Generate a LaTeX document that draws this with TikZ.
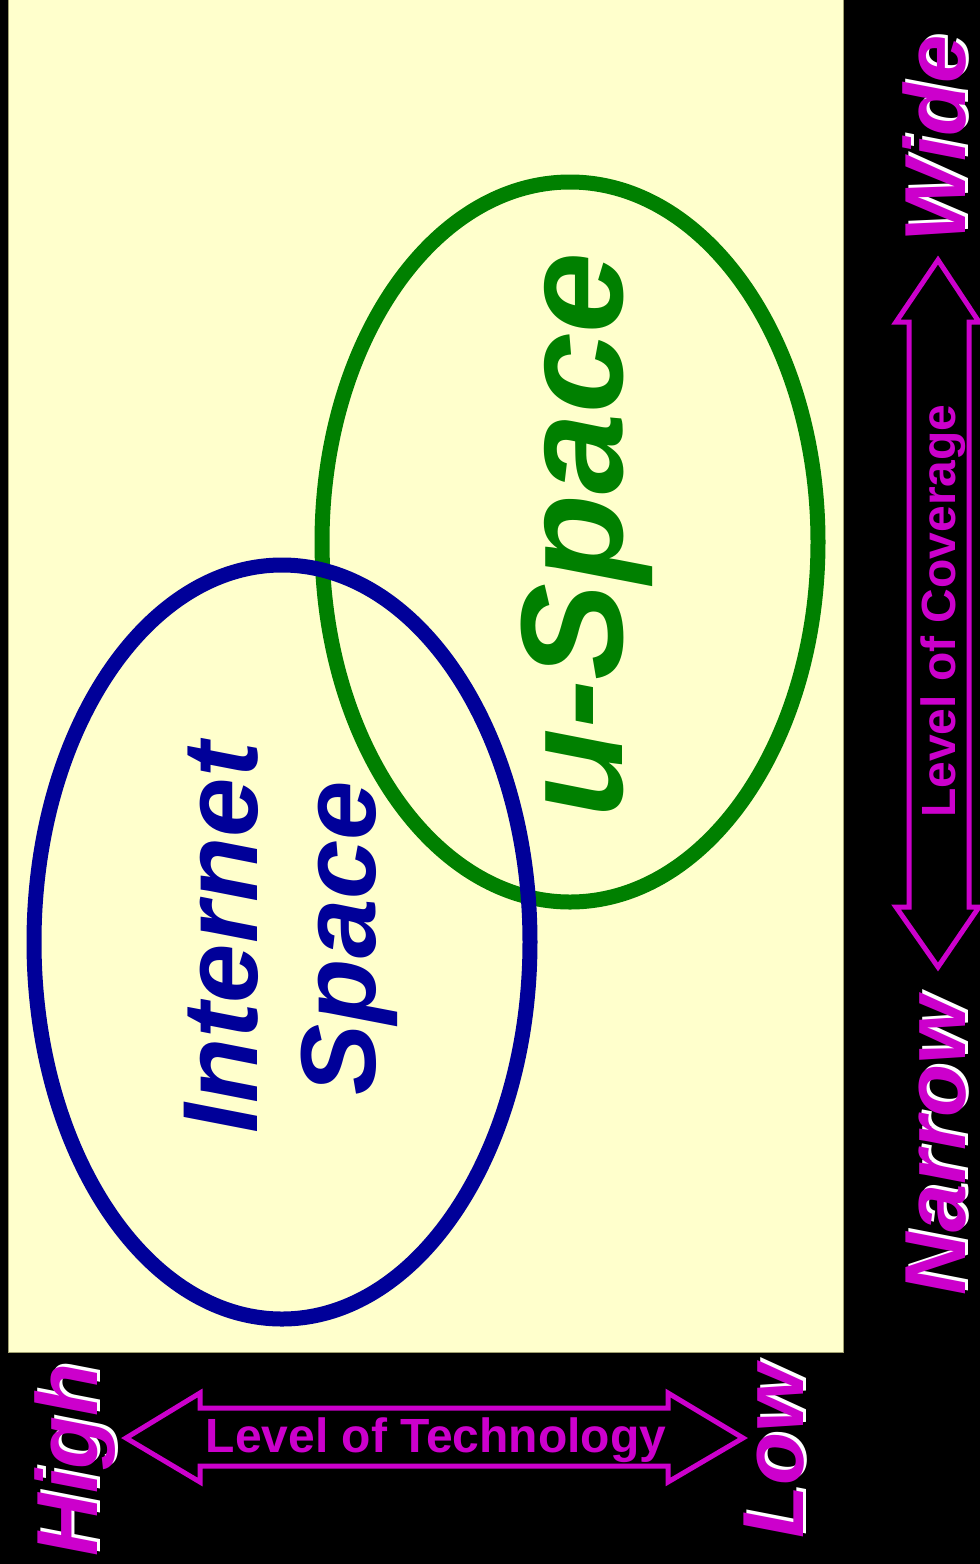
\documentclass[tikz,border=0pt]{standalone}
\usepackage{fontspec}
\setmainfont{Liberation Sans}
\definecolor{paleyellow}{HTML}{FFFFCC}
\definecolor{navy}{HTML}{000099}
\definecolor{ugreen}{HTML}{008000}
\definecolor{mag}{HTML}{CC00CC}
\definecolor{rim}{HTML}{A0A070}
\begin{document}
\begin{tikzpicture}[x=0.75pt,y=-0.75pt,
  endlabel/.style={font=\fontsize{65}{70}\selectfont\bfseries\itshape, rotate=90, anchor=base, inner sep=0pt},
  magtext/.style={endlabel, text=mag},
  shadowtext/.style={endlabel, text=white},
  axislabel/.style={font=\fontsize{36}{40}\selectfont\bfseries, text=mag, anchor=base, inner sep=0pt},
  arrowbox/.style={draw=mag, fill=black, line width=3.75pt, line join=miter},
  ring/.style={line width=11.25pt}]
\useasboundingbox (0,0) rectangle (980,1564);
\fill[black] (0,0) rectangle (980,1564);
\draw[fill=paleyellow, draw=rim, line width=0.75pt] (8,-10) rectangle (843,1352);
% ellipses
\draw[ring, draw=ugreen] (570,542) ellipse [x radius=248, y radius=360];
\draw[ring, draw=navy] (282,942) ellipse [x radius=248, y radius=377];
% ellipse labels
\node[font=\fontsize{80}{88}\selectfont\bfseries\itshape, text=navy, align=center, rotate=90, inner sep=0pt] (internet) at (291,938) {Internet\\Space};
\node[font=\fontsize{109}{120}\selectfont\bfseries\itshape, text=ugreen, rotate=90, inner sep=0pt] (uspace) at (587,535) {u-Space};
% technology axis
\draw[arrowbox] (126,1438) -- (200,1393) -- (200,1408) -- (668,1408) -- (668,1393) -- (743,1438) -- (668,1482) -- (668,1466) -- (200,1466) -- (200,1482) -- cycle;
\node[axislabel] (tech) at (436,1452) {Level of Technology};
\node[shadowtext] (highs) at (100,1457) {High};
\node[magtext] (high) at (97,1460) {High};
\node[shadowtext] (lows) at (806,1449) {Low};
\node[magtext] (low) at (803,1452) {Low};
% coverage axis
\draw[arrowbox] (938,260) -- (979,322) -- (969,322) -- (969,907) -- (979,907) -- (938,967) -- (896,907) -- (909,907) -- (909,322) -- (896,322) -- cycle;
\node[axislabel, rotate=90] (cover) at (955,611) {Level of Coverage};
\node[shadowtext] (wides) at (968,136) {Wide};
\node[magtext] (wide) at (965,139) {Wide};
\node[shadowtext] (narrows) at (968,1143) {Narrow};
\node[magtext] (narrow) at (965,1146) {Narrow};
\end{tikzpicture}
\end{document}
